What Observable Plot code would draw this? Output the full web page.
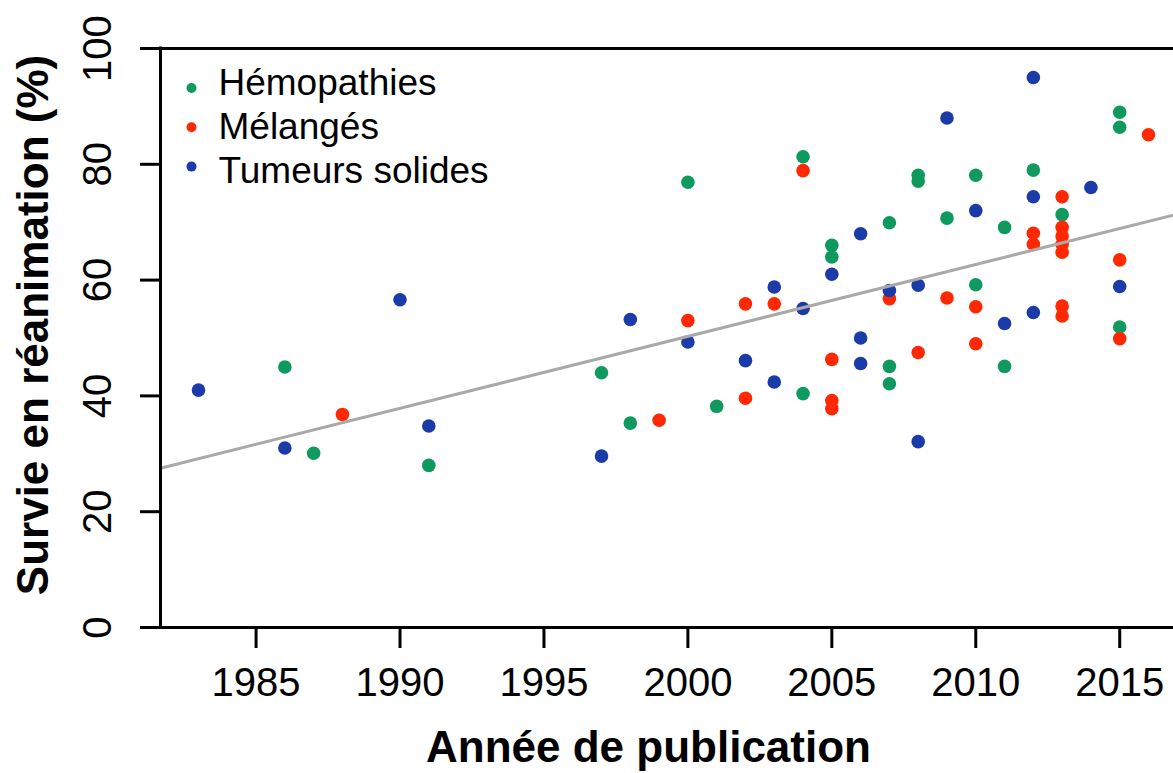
<!DOCTYPE html>
<html><head><meta charset="utf-8">
<script src="https://cdn.jsdelivr.net/npm/d3@7"></script>
<script src="https://cdn.jsdelivr.net/npm/@observablehq/plot@0.6"></script>
<style>
html,body{margin:0;padding:0;background:#fff;overflow:hidden;}
#chart svg{display:block;}
</style></head><body><div id="chart"></div>
<script>
const categories = ["Hémopathies", "Mélangés", "Tumeurs solides"];
const colors = ["#0e9a5e", "#ff2800", "#1b3ca8"];

// [année, survie %]
const hemopathies = [
  [1986,45.0],[1987,30.1],[1991,28.0],[1997,44.0],[1998,35.3],[2000,76.9],[2001,38.2],
  [2004,81.3],[2004,40.4],[2005,66.0],[2005,64.0],[2007,69.9],[2007,45.1],[2007,42.1],
  [2008,78.1],[2008,77.1],[2009,70.7],[2010,78.1],[2010,59.2],[2011,69.1],[2011,45.1],
  [2012,79.0],[2013,71.3],[2015,89.0],[2015,86.4],[2015,51.9]
];
const melanges = [
  [1988,36.8],[1999,35.8],[2000,53.0],[2002,55.9],[2002,39.6],[2003,55.9],[2004,78.9],
  [2005,46.3],[2005,39.2],[2005,37.8],[2007,56.8],[2008,47.5],[2009,56.9],[2010,55.4],
  [2010,49.0],[2012,68.1],[2012,66.2],[2013,74.4],[2013,69.1],[2013,67.6],[2013,66.2],
  [2013,64.8],[2013,55.5],[2013,53.8],[2015,63.5],[2015,49.9],[2016,85.1]
];
const tumeursSolides = [
  [1983,41.0],[1986,31.0],[1990,56.6],[1991,34.8],[1997,29.6],[1998,53.2],[2000,49.3],
  [2002,46.1],[2003,58.8],[2003,42.4],[2004,55.1],[2005,61.0],[2006,68.0],[2006,50.0],
  [2006,45.6],[2007,58.2],[2008,59.1],[2008,32.1],[2009,88.0],[2010,72.0],[2011,52.5],
  [2012,95.0],[2012,74.4],[2012,54.4],[2014,76.0],[2015,58.9]
];

const xTicks = [1985, 1990, 1995, 2000, 2005, 2010, 2015];
const yTicks = [0, 20, 40, 60, 80, 100];
const xLabel = "Année de publication";
const yLabel = "Survie en réanimation (%)";

const series = [hemopathies, melanges, tumeursSolides];
const points = series.flatMap((s, i) => s.map(([year, value]) => ({year, value, category: categories[i]})));

// x domain like R (4% padding)
const ext = d3.extent(points, d => d.year);
const pad = 0.04 * (ext[1] - ext[0]);
const xDomain = [ext[0] - pad, ext[1] + pad];

// least-squares regression line (abline)
const mx = d3.mean(points, d => d.year), my = d3.mean(points, d => d.value);
const slope = d3.sum(points, d => (d.year - mx) * (d.value - my)) / d3.sum(points, d => (d.year - mx) ** 2);
const intercept = my - slope * mx;
const fit = xDomain.map(x => ({year: x, value: intercept + slope * x}));

const font = "'Liberation Sans', Arial, Helvetica, sans-serif";
const legendMarks = categories.flatMap((c, i) => [
  Plot.dot([c], {frameAnchor: "top-left", dx: 31, dy: 39.5 + i * 39.3, r: 5, fill: colors[i]}),
  Plot.text([c], {frameAnchor: "top-left", dx: 58, dy: 35 + i * 44, textAnchor: "start", lineAnchor: "middle", fontSize: 37, fill: "#000"})
]);

const chart = Plot.plot({
  width: 1173,
  height: 773,
  marginLeft: 160,
  marginRight: -13,
  marginTop: 48,
  marginBottom: 146,
  style: {fontFamily: font, background: "#fff", overflow: "hidden"},
  x: {domain: xDomain},
  y: {domain: [0, 100]},
  color: {domain: categories, range: colors},
  marks: [
    Plot.dot(points, {x: "year", y: "value", fill: "category", r: 6.8}),
    Plot.line(fit, {x: "year", y: "value", stroke: "#a9a9a9", strokeWidth: 3, clip: true}),
    Plot.ruleY([0, 100], {stroke: "#000", strokeWidth: 3, strokeLinecap: "square"}),
    Plot.ruleX([xDomain[0]], {stroke: "#000", strokeWidth: 3, strokeLinecap: "square"}),
    Plot.axisX(xTicks, {tickSize: 21, tickPadding: 19, fontSize: 40, label: null, strokeWidth: 3, tickFormat: d => String(d)}),
    Plot.axisY(yTicks, {tickSize: 20, tickPadding: 30, tickRotate: -90, fontSize: 40, label: null, strokeWidth: 3}),
    Plot.text([xLabel], {frameAnchor: "bottom", dx: -25, dy: 120, lineAnchor: "middle", fontSize: 44, fontWeight: "bold", fill: "#000"}),
    Plot.text([yLabel], {frameAnchor: "left", dx: -127, dy: -13, rotate: -90, textAnchor: "middle", lineAnchor: "middle", fontSize: 44, fontWeight: "bold", fill: "#000"}),
    ...legendMarks
  ]
});
document.getElementById("chart").appendChild(chart);
</script></body></html>
